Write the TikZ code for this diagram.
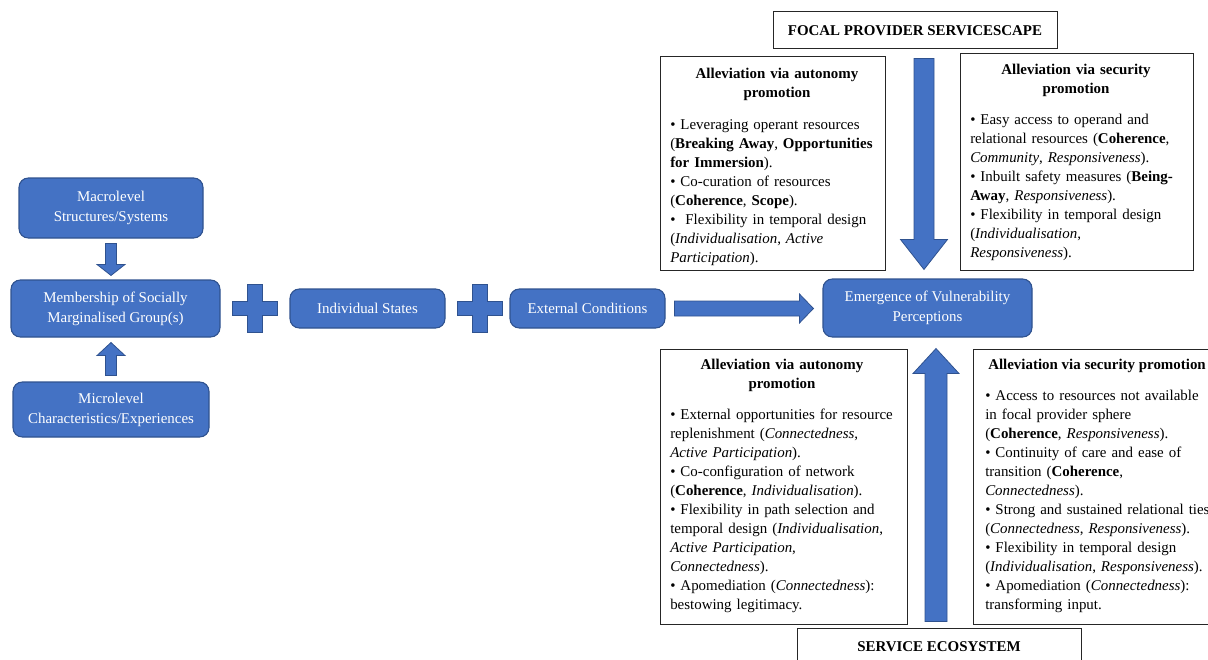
\documentclass[tikz,border=0pt]{standalone}
\usepackage{fontspec}
\setmainfont{Liberation Serif}
\usetikzlibrary{calc}
\definecolor{boxblue}{HTML}{4472C4}
\definecolor{boxedge}{HTML}{2F528F}

% block arrow from tail #1 to tip #2; shaft width #3, head width #4, head length #5 (in px, 1px = 0.75pt)
\newcommand{\blockarrow}[5]{%
  \path[blockarrow] let \p1=#1, \p2=#2,
    \n1={atan2(\y2-\y1,\x2-\x1)}, \n2={veclen(\x2-\x1,\y2-\y1)} in
    {[shift={(\p1)}, rotate=\n1]
     (0pt,{#3*0.375pt}) -- ({\n2-#5*0.75pt},{#3*0.375pt}) -- ({\n2-#5*0.75pt},{#4*0.375pt})
     -- ({\n2},0pt) -- ({\n2-#5*0.75pt},{-#4*0.375pt}) -- ({\n2-#5*0.75pt},{-#3*0.375pt})
     -- (0pt,{-#3*0.375pt}) -- cycle};}

% plus sign centred on a point
\newcommand{\plussign}[1]{%
  \path[blockarrow, shift={#1}]
    (-7.5,-24) -- (7.5,-24) -- (7.5,-7) -- (22.5,-7) -- (22.5,7) -- (7.5,7)
    -- (7.5,24) -- (-7.5,24) -- (-7.5,7) -- (-22.5,7) -- (-22.5,-7) -- (-7.5,-7) -- cycle;}

\begin{document}
\begin{tikzpicture}[x=0.75pt, y=-0.75pt,
  bluebox/.style={draw=boxedge, line width=0.8pt, fill=boxblue, rounded corners=7pt,
    text=white, align=center, inner sep=0pt, font=\fontsize{11.2pt}{15pt}\selectfont},
  panel/.style={draw=black!85, line width=0.75pt, fill=white, inner sep=0pt},
  paneltext/.style={inner sep=0pt, align=left, anchor=base west,
    font=\fontsize{11.2pt}{14.25pt}\selectfont},
  paneltitle/.style={inner sep=0pt, align=center, anchor=base,
    font=\fontsize{11.2pt}{14.25pt}\selectfont\bfseries},
  blockarrow/.style={fill=boxblue, draw=boxedge, line width=0.6pt},
]
\useasboundingbox (0,0) rectangle (1208,660);

% left-hand chain
\node[bluebox, minimum width=138pt, minimum height=45pt] (macro) at (111,208)
  {Macrolevel\\Structures/Systems};
\node[bluebox, minimum width=156.75pt, minimum height=42.75pt] (member) at (115.5,308.5)
  {Membership of Socially\\Marginalised Group(s)};
\node[bluebox, minimum width=147pt, minimum height=41.25pt] (micro) at (111,409.5)
  {Microlevel\\Characteristics/Experiences};
\node[bluebox, minimum width=116.25pt, minimum height=29.25pt] (indiv) at (367.5,308.5)
  {Individual States};
\node[bluebox, minimum width=116.25pt, minimum height=29.25pt] (extern) at (587.5,308.5)
  {External Conditions};
\node[bluebox, minimum width=156.75pt, minimum height=43.5pt] (emerge) at (927.5,308)
  {Emergence of Vulnerability\\Perceptions};

% framing labels
\node[panel, minimum width=213pt, minimum height=27.75pt,
  font=\fontsize{11.2pt}{14pt}\selectfont\bfseries] (focal) at (915,30.5)
  {FOCAL PROVIDER SERVICESCAPE};
\node[panel, minimum width=213pt, minimum height=27.75pt,
  font=\fontsize{11.2pt}{14pt}\selectfont\bfseries] (service) at (939,646.5)
  {SERVICE ECOSYSTEM};

% text panels
\node[panel, minimum width=168.75pt, minimum height=159.75pt] (tl) at (772.5,163.5) {};
\node[panel, minimum width=174.75pt, minimum height=162pt] (tr) at (1076.5,162) {};
\node[panel, minimum width=185.25pt, minimum height=206.25pt] (bl) at (783.5,486.5) {};
\node[panel, minimum width=181.5pt, minimum height=206.25pt] (br) at (1094,486.5) {};

\node[paneltitle, text width=165pt] (tltitle) at (777,78.5)
  {Alleviation via autonomy\\promotion};
\node[paneltext, text width=165pt] (tlbody) at (670,129.5)
  {• Leveraging operant resources\\
   (\textbf{Breaking Away}, \textbf{Opportunities}\\
   \textbf{for Immersion}).\\
   • Co-curation of resources\\
   (\textbf{Coherence}, \textbf{Scope}).\\
   •~ Flexibility in temporal design\\
   (\textit{Individualisation}, \textit{Active}\\
   \textit{Participation}).};

\node[paneltitle, text width=170pt] (trtitle) at (1076,74.5)
  {Alleviation via security\\promotion};
\node[paneltext, text width=170pt] (trbody) at (970,124.5)
  {• Easy access to operand and\\
   relational resources (\textbf{Coherence},\\
   \textit{Community}, \textit{Responsiveness}).\\
   • Inbuilt safety measures (\textbf{Being-}\\
   \textbf{Away}, \textit{Responsiveness}).\\
   • Flexibility in temporal design\\
   (\textit{Individualisation},\\
   \textit{Responsiveness}).};

\node[paneltitle, text width=180pt] (bltitle) at (782,369.5)
  {Alleviation via autonomy\\promotion};
\node[paneltext, text width=180pt] (blbody) at (670,419.5)
  {• External opportunities for resource\\
   replenishment (\textit{Connectedness},\\
   \textit{Active Participation}).\\
   • Co-configuration of network\\
   (\textbf{Coherence}, \textit{Individualisation}).\\
   • Flexibility in path selection and\\
   temporal design (\textit{Individualisation},\\
   \textit{Active Participation},\\
   \textit{Connectedness}).\\
   • Apomediation (\textit{Connectedness}):\\
   bestowing legitimacy.};

\node[paneltext, font=\fontsize{11.2pt}{14.25pt}\selectfont\bfseries] (brtitle) at (988,369.5)
  {Alleviation via security promotion};
\node[paneltext, text width=185pt] (brbody) at (985,400.5)
  {• Access to resources not available\\
   in focal provider sphere\\
   (\textbf{Coherence}, \textit{Responsiveness}).\\
   • Continuity of care and ease of\\
   transition (\textbf{Coherence},\\
   \textit{Connectedness}).\\
   • Strong and sustained relational ties\\
   (\textit{Connectedness}, \textit{Responsiveness}).\\
   • Flexibility in temporal design\\
   (\textit{Individualisation}, \textit{Responsiveness}).\\
   • Apomediation (\textit{Connectedness}):\\
   transforming input.};

% connectors
\blockarrow{($(macro.south)+(0,5)$)}{($(macro.south |- member.north)+(0,-4)$)}{11}{28}{11}
\blockarrow{($(micro.north)+(0,-6)$)}{($(micro.north |- member.south)+(0,5)$)}{11}{28}{13}
\plussign{($(member.east)!0.5!(indiv.west)$)}
\plussign{($(indiv.east)!0.5!(extern.west)+(2,0)$)}
\blockarrow{($(extern.east)+(9,0)$)}{($(emerge.west |- extern.east)+(-9,0)$)}{15}{29}{14}
\blockarrow{($(focal.south)+(9,9)$)}{($(emerge.north)+(-3.5,-9)$)}{20}{47}{30}
\blockarrow{($(service.north)+(-3,-6)$)}{($(emerge.south)+(8.5,11)$)}{22}{46}{25}

\end{tikzpicture}
\end{document}
